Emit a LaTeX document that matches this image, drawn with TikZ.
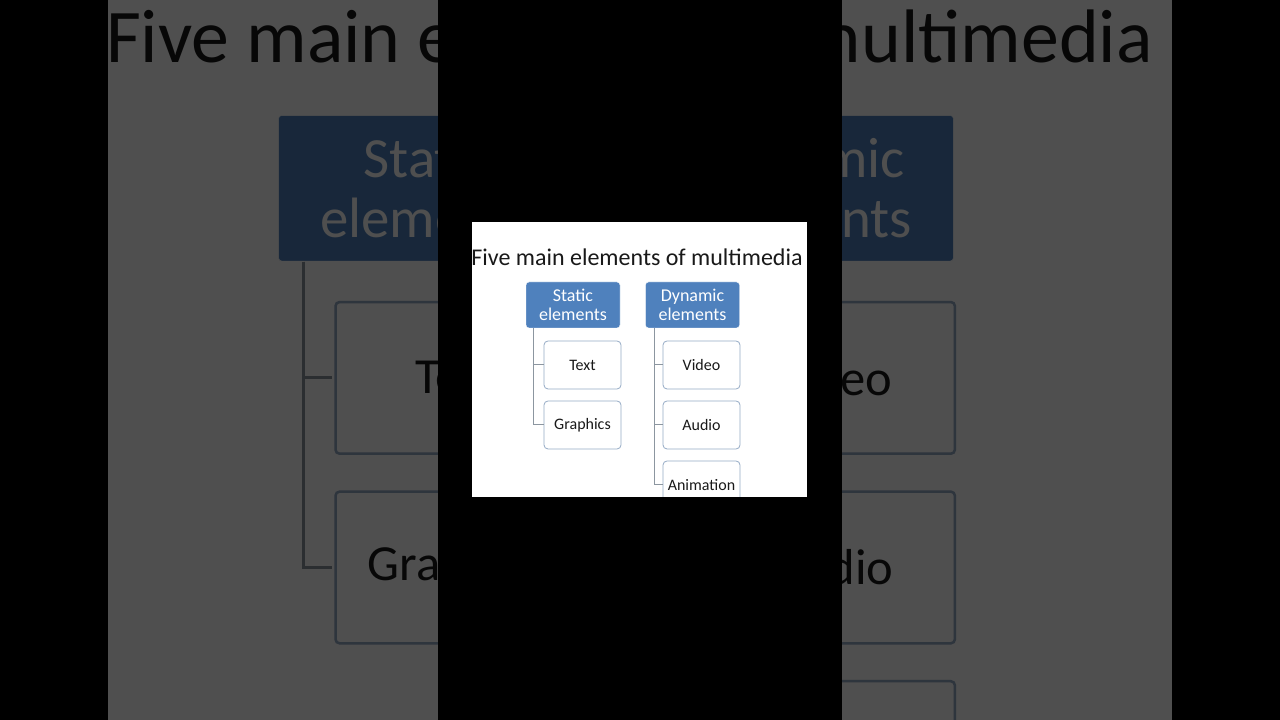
\documentclass[tikz,border=0pt]{standalone}
\usepackage{fontspec}
\setmainfont{Carlito}
\usepackage{tikz}
\usetikzlibrary{
	positioning
}

\definecolor{hdrblue}{RGB}{79,129,189}
\definecolor{leafline}{RGB}{150,172,198}
\definecolor{linkgray}{RGB}{140,150,160}
\definecolor{inkblack}{RGB}{25,25,25}

\tikzset{
	header/.style={draw=white, fill=hdrblue, rounded corners=3, text=white,
		minimum width=94, minimum height=46, inner sep=0, align=center,
		font=\fontsize{18}{19}\selectfont},
	leaf/.style={draw=leafline, fill=white, rounded corners=4, text=inkblack,
		minimum width=77, minimum height=48, inner sep=0, line width=0.8pt,
		font=\fontsize{16}{19}\selectfont},
	link/.style={draw=linkgray, line width=1pt}
}

% one slide, origin at its top left corner, 335 x 275
\newcommand{\slideitems}{%
	\fill[white] (0,0) rectangle (335,-275);
	\node[text=inkblack, font=\fontsize{24}{28}\selectfont] (title) at (165,-35) {Five main elements of multimedia};

	\node[header] (stat) at (101,-83)   {Static\\elements};
	\node[leaf]   (text) at (110.5,-143) {Text};
	\node[leaf]   (grph) at (110.5,-203) {Graphics};

	\node[header] (dyn)  at (220.5,-83)  {Dynamic\\elements};
	\node[leaf]   (vid)  at (229.5,-143) {Video};
	\node[leaf]   (aud)  at (229.5,-203) {Audio};
	\node[leaf]   (anim) at (229.5,-263) {Animation};

	\draw[link] (stat.south west) ++(8,0) |- (text.west);
	\draw[link] (stat.south west) ++(8,0) |- (grph.west);
	\draw[link] (dyn.south west) ++(9,0) |- (vid.west);
	\draw[link] (dyn.south west) ++(9,0) |- (aud.west);
	\draw[link] (dyn.south west) ++(9,0) |- (anim.west);
}

\begin{document}
\begin{tikzpicture}[x=1pt, y=1pt]
	\useasboundingbox (0,0) rectangle (1280,720);
	\fill[black] (0,0) rectangle (1280,720);

	% blown up, dimmed copy behind
	\begin{scope}
		\clip (108,0) rectangle (1172,720);
		\fill[white] (108,0) rectangle (1172,720);
		\begin{scope}[shift={(108,794)}, scale=3.16, transform shape, name prefix=bg-,
			link/.append style={line width=3pt},
			leaf/.append style={line width=2.5pt}]
			\slideitems
		\end{scope}
		\fill[black, opacity=0.69] (108,0) rectangle (1172,720);
	\end{scope}

	\fill[black] (438,0) rectangle (842,720);

	% the slide itself
	\begin{scope}[shift={(472,498)}]
		\clip (0,0) rectangle (335,-275);
		\slideitems
	\end{scope}
\end{tikzpicture}
\end{document}
